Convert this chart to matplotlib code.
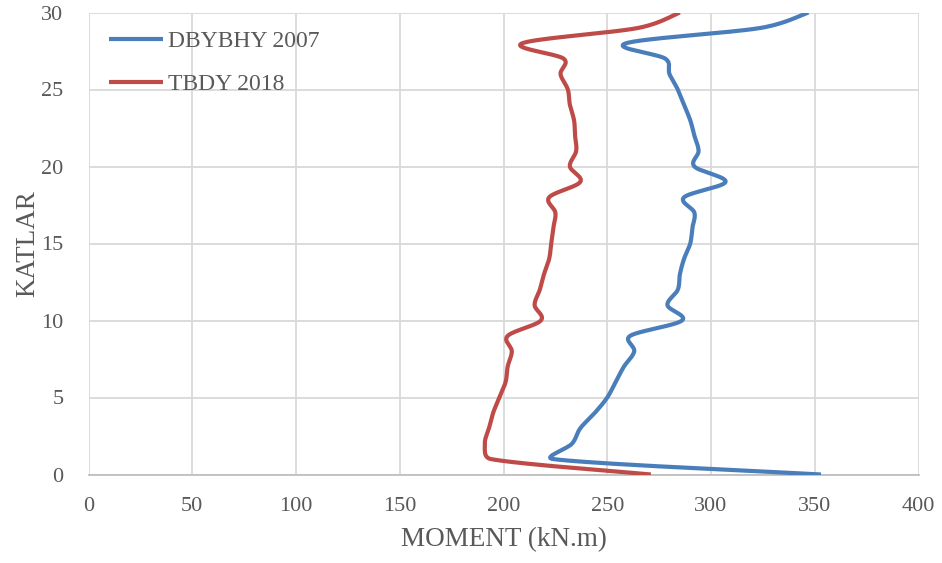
import numpy as np
import matplotlib

matplotlib.use("Agg")
import matplotlib.pyplot as plt
from matplotlib.ticker import MultipleLocator

# floors (KATLAR) and moments (kN.m)
floors = list(range(0, 31))
dbybhy_2007 = [353, 224, 233, 237, 244, 250, 254, 258, 263, 261,
               286, 279, 284, 285, 287, 290, 291, 292, 287, 307,
               292, 294, 292, 290, 287, 284, 280, 278, 259, 324, 347]
tbdy_2018 = [271, 194, 191, 193, 195, 198, 201, 202, 204, 202,
             218, 215, 217.5, 219.5, 222, 223, 224, 225, 222, 237,
             232, 235, 234.5, 234, 232, 231, 227.5, 229, 209, 265, 285]

BLUE = "#4A7EBB"
RED = "#BE4B48"
GRID = "#D9D9D9"
TXT = "#595959"

# pixel scale of the axes, so the smoothing works in screen space
SX, SY = 830 / 400, 462 / 30


def smooth(x, y, n=30):
    """Excel-style smoothed line: Bezier through the points, tangent/6,
    control arm never longer than half the segment."""
    p = np.column_stack([np.asarray(x, float) * SX, np.asarray(y, float) * SY])
    pad = np.vstack([p[:1], p, p[-1:]])
    out = []
    t = np.linspace(0, 1, n)[:, None]
    for i in range(len(p) - 1):
        p0, p1 = pad[i + 1], pad[i + 2]
        seg_len = np.hypot(*(p1 - p0))
        d1 = (pad[i + 2] - pad[i]) / 6.0
        d2 = (pad[i + 3] - pad[i + 1]) / 6.0
        for d in (d1, d2):
            ln = np.hypot(*d)
            if ln > seg_len / 2 and ln > 0:
                d *= (seg_len / 2) / ln
        c1 = p0 + d1
        c2 = p1 - d2
        seg = ((1 - t) ** 3) * p0 + 3 * ((1 - t) ** 2) * t * c1 \
            + 3 * (1 - t) * t ** 2 * c2 + t ** 3 * p1
        out.append(seg if i == 0 else seg[1:])
    s = np.vstack(out)
    return s[:, 0] / SX, s[:, 1] / SY


plt.rcParams["font.family"] = ["Liberation Serif", "DejaVu Serif"]

fig = plt.figure(figsize=(9.42, 5.63), dpi=100)
ax = fig.add_axes([88.5 / 942, 1 - 474.5 / 563, 830 / 942, 462 / 563])

for vals, col, lab in [(dbybhy_2007, BLUE, "DBYBHY 2007"),
                       (tbdy_2018, RED, "TBDY 2018")]:
    sx, sy = smooth(vals, floors)
    ax.plot(sx, sy, color=col, lw=3, solid_capstyle="butt", label=lab,
            zorder=3)

ax.set_xlim(0, 400)
ax.set_ylim(0, 30)
ax.xaxis.set_major_locator(MultipleLocator(50))
ax.yaxis.set_major_locator(MultipleLocator(5))
ax.grid(True, color=GRID, lw=1.3)
ax.set_axisbelow(True)
for side in ["top", "right", "left"]:
    ax.spines[side].set_visible(False)
ax.spines["bottom"].set_color("#BFBFBF")
ax.spines["bottom"].set_linewidth(1.3)
ax.tick_params(length=0, labelsize=16, labelcolor=TXT)
ax.tick_params(axis="x", pad=16)
ax.tick_params(axis="y", pad=18)

ax.set_xlabel("MOMENT (kN.m)", fontsize=19.5, color=TXT, labelpad=8)
ax.set_ylabel("KATLAR", fontsize=19.5, color=TXT)
ax.yaxis.set_label_coords(-48 / 830, 0.5)

leg = ax.legend(loc="upper left", bbox_to_anchor=(5 / 830, 1 - 3 / 462),
                frameon=False, fontsize=17, handlelength=2.3,
                handletextpad=0.2, labelspacing=0.9, borderaxespad=0.25)
for t in leg.get_texts():
    t.set_color(TXT)

fig.savefig("out.png", dpi=100)
